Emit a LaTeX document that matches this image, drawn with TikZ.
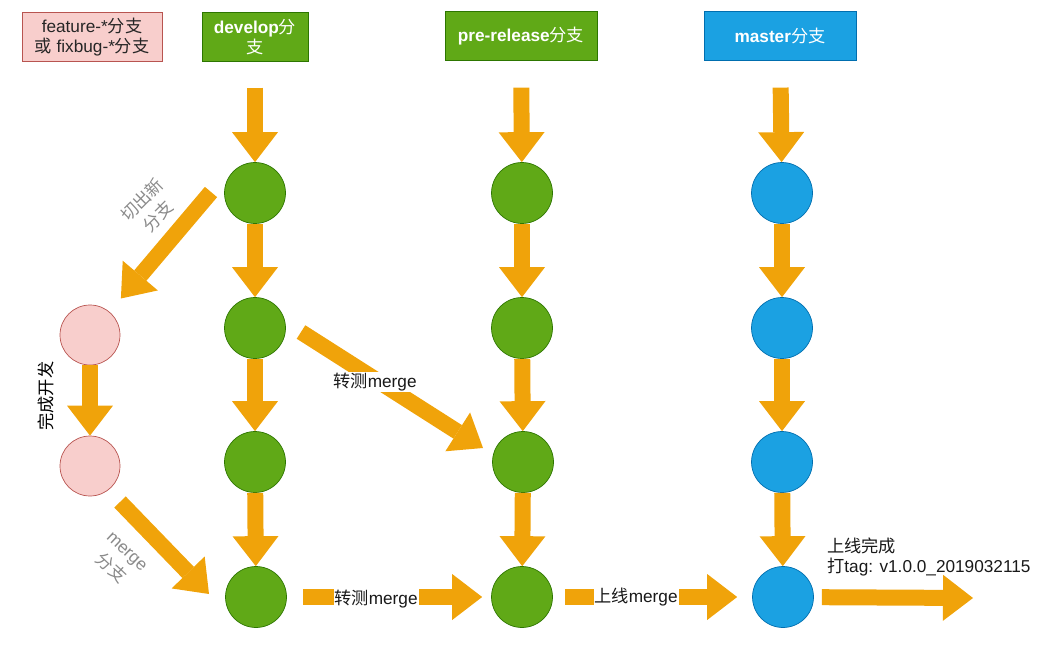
\documentclass[tikz,border=0pt]{standalone}
\usepackage{fontspec}
\setmainfont{Liberation Sans}
\newfontfamily\cjk{Noto Sans CJK SC}
\usetikzlibrary{arrows.meta}

\newcommand{\zh}[1]{{\cjk #1}}
\newcommand{\zhm}[1]{{\mdseries\cjk #1}}
\newcommand{\sz}{\fontsize{9.8pt}{11.8pt}\selectfont}

\definecolor{flowor}{HTML}{F0A30A}
\definecolor{devfill}{HTML}{60A917}
\definecolor{devline}{HTML}{2D7600}
\definecolor{masfill}{HTML}{1BA1E2}
\definecolor{masline}{HTML}{006EAF}
\definecolor{featfill}{HTML}{F8CECC}
\definecolor{featline}{HTML}{B85450}
\definecolor{lblgray}{HTML}{8A8A8A}

\tikzset{
  flow/.style={draw=flowor, line width=0.32cm,
    -{Triangle[line width=0pt, length=0.6cm, width=0.92cm]}},
  box/.style={draw, minimum height=0.97cm, inner sep=1pt, align=center, text=white, font=\sz\bfseries},
  dev/.style={circle, draw=devline, fill=devfill, minimum size=1.22cm, inner sep=0pt},
  mas/.style={circle, draw=masline, fill=masfill, minimum size=1.22cm, inner sep=0pt},
  feat/.style={circle, draw=featline, fill=featfill, minimum size=1.2cm, inner sep=0pt},
  lbl/.style={fill=white, inner sep=0.5pt, text=black!90}
}

\begin{document}
\begin{tikzpicture}[x=0.02cm, y=-0.02cm, font=\sz]
  \useasboundingbox (0,0) rectangle (1053,648);

  % branch headers
  \node [box, fill=featfill, draw=featline, text=black!85, font=\sz, minimum width=2.8cm] (featbox) at (92,37) {feature-*\zh{分支}\\\zh{或} fixbug-*\zh{分支}};
  \node [box, fill=devfill, draw=devline, minimum width=2.12cm] (devbox) at (255,37) {develop\zhm{分}\\\zhm{支}};
  \node [box, fill=devfill, draw=devline, minimum width=3.04cm] (prebox) at (521,36) {pre-release\zhm{分支}};
  \node [box, fill=masfill, draw=masline, minimum width=3.04cm] (masbox) at (780,36) {master\zhm{分支}};

  % commits
  \node [dev] (d1) at (255,193) {};
  \node [dev] (d2) at (255,328) {};
  \node [dev] (d3) at (255,462) {};
  \node [dev] (d4) at (256,597) {};
  \node [dev] (p1) at (522,193) {};
  \node [dev] (p2) at (522,328) {};
  \node [dev] (p3) at (523,462) {};
  \node [dev] (p4) at (522,597) {};
  \node [mas] (m1) at (782,193) {};
  \node [mas] (m2) at (782,328) {};
  \node [mas] (m3) at (782,462) {};
  \node [mas] (m4) at (783,597) {};
  \node [feat] (f1) at (90,335) {};
  \node [feat] (f2) at (90,466) {};

  \coordinate (cut0) at (211,192);
  \coordinate (back0) at (120,502);
  \coordinate (back1) at (209,594);
  \coordinate (test0) at (301,332);
  \coordinate (test1) at (483,448);
  \coordinate (done) at (973,598);

  % straight down
  \draw [flow, shorten <=0.52cm] (devbox) -- (d1);
  \draw [flow, shorten <=0.54cm] (prebox) -- (p1);
  \draw [flow, shorten <=0.54cm] (masbox) -- (m1);
  \draw [flow] (d1) -- (d2);
  \draw [flow] (d2) -- (d3);
  \draw [flow] (d3) -- (d4);
  \draw [flow] (p1) -- (p2);
  \draw [flow] (p2) -- (p3);
  \draw [flow] (p3) -- (p4);
  \draw [flow] (m1) -- (m2);
  \draw [flow] (m2) -- (m3);
  \draw [flow] (m3) -- (m4);
  \draw [flow] (f1) -- (f2);

  % between branches
  \draw [flow, shorten >=0.35cm] (cut0) -- (f1);
  \draw [flow] (back0) -- (back1);
  \draw [flow] (test0) -- (test1);
  \draw [flow, shorten <=0.32cm, shorten >=0.18cm] (d4) -- (p4);
  \draw [flow, shorten <=0.24cm, shorten >=0.3cm] (p4) -- (m4);
  \draw [flow, shorten <=0.16cm] (m4) -- (done);

  % labels
  \node [rotate=45, text=lblgray, align=center] (cutlbl) at (150,208) {\zh{切出新}\\[1.5pt]\zh{分支}};
  \node [rotate=90] (devlbl) at (46,396) {\zh{完成开发}};
  \node [rotate=-43, text=lblgray, align=center] (backlbl) at (118,561) {merge\\[2pt]\zh{分支}};
  \node [lbl] (testlbl) at (375,382) {\zh{转测}merge};
  \node [lbl] (testlbl2) at (376,599) {\zh{转测}merge};
  \node [lbl] (golbl) at (636,597) {\zh{上线}merge};
  \node [align=left, anchor=west, text=black!90] (donelbl) at (821,557) {\zh{上线完成}\\\zh{打}tag: v1.0.0\_2019032115};
\end{tikzpicture}
\end{document}
